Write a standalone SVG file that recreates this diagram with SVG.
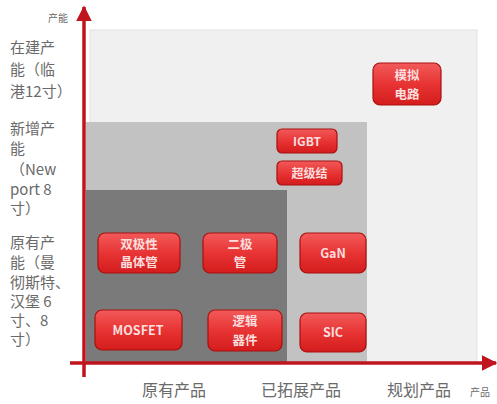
<svg xmlns="http://www.w3.org/2000/svg" width="497" height="404" viewBox="0 0 497 404">
<defs>
<linearGradient id="btn" x1="0" y1="0" x2="0" y2="1">
<stop offset="0" stop-color="#f25a5a"/>
<stop offset="0.5" stop-color="#e83434"/>
<stop offset="1" stop-color="#d41c1c"/>
</linearGradient>
<marker id="ah" viewBox="0 0 10 10" refX="9" refY="5" markerWidth="4.5" markerHeight="4.5" orient="auto" markerUnits="strokeWidth">
<path d="M0,0 L10,5 L0,10 z" fill="#c0141e"/>
</marker>
<style>
.lbl{font-family:"Noto Sans CJK SC","Liberation Serif",serif;font-size:15px;fill:#6a6a6a}
.xl{font-size:16px}
.sm{font-size:10px}
.btn rect{fill:url(#btn);stroke:#a81010;stroke-width:1.2}
.btn text{font-family:"Noto Sans CJK SC","Liberation Sans",sans-serif;font-size:12.5px;fill:#fbdede;text-anchor:middle;font-weight:bold}
.ax{stroke:#c0141e;stroke-width:3.5;fill:none}
</style>
</defs>
<rect width="497" height="404" fill="#ffffff"/>
<g id="regions">
<rect x="90" y="30" width="387" height="333" fill="#f0f0f0" stroke="#e2e2e2"/>
<rect x="86" y="122" width="281" height="241" fill="#c2c2c2"/>
<rect x="86" y="190" width="201" height="173" fill="#7a7a7a"/>
</g>
<g id="connectors">
<line class="ax" x1="84" y1="377" x2="84" y2="7" marker-end="url(#ah)"/>
<line class="ax" x1="70" y1="363" x2="496" y2="363" marker-end="url(#ah)"/>
</g>
<g id="y-labels" class="lbl">
<text x="48" y="22" class="lbl sm">产能</text>
<text x="10" y="53">在建产</text>
<text x="10" y="75">能（临</text>
<text x="10" y="97">港12寸）</text>
<text x="10" y="134">新增产</text>
<text x="10" y="154">能</text>
<text x="10" y="175">（New</text>
<text x="10" y="195">port 8</text>
<text x="10" y="214">寸）</text>
<text x="10" y="248">原有产</text>
<text x="10" y="268">能（曼</text>
<text x="10" y="288">彻斯特、</text>
<text x="10" y="307">汉堡 6</text>
<text x="10" y="326">寸、8</text>
<text x="10" y="345">寸）</text>
</g>
<g id="x-labels" class="lbl" text-anchor="middle">
<text x="174" y="396" class="lbl xl">原有产品</text>
<text x="301" y="396" class="lbl xl">已拓展产品</text>
<text x="419" y="396" class="lbl xl">规划产品</text>
<text x="480" y="396" class="lbl sm">产品</text>
</g>
<g id="n-bipolar" class="btn"><rect x="98" y="233" width="82" height="40" rx="7"/><text x="139" y="249">双极性</text><text x="139" y="267">晶体管</text></g>
<g id="n-diode" class="btn"><rect x="203" y="233" width="74" height="40" rx="7"/><text x="240" y="249">二极</text><text x="240" y="267">管</text></g>
<g id="n-mosfet" class="btn"><rect x="95" y="310" width="87" height="40" rx="7"/><text x="138" y="335">MOSFET</text></g>
<g id="n-logic" class="btn"><rect x="208" y="310" width="74" height="41" rx="7"/><text x="245" y="326">逻辑</text><text x="245" y="345">器件</text></g>
<g id="n-gan" class="btn"><rect x="300" y="233" width="66" height="40" rx="7"/><text x="333" y="258">GaN</text></g>
<g id="n-sic" class="btn"><rect x="300" y="313" width="66" height="39" rx="7"/><text x="333" y="337">SIC</text></g>
<g id="n-igbt" class="btn"><rect x="277" y="129" width="60" height="24" rx="5"/><text x="307" y="146" style="font-size:12px">IGBT</text></g>
<g id="n-sj" class="btn"><rect x="277" y="161" width="65" height="24" rx="5"/><text x="309.5" y="178" style="font-size:12px">超级结</text></g>
<g id="n-analog" class="btn"><rect x="373" y="63" width="68" height="42" rx="7"/><text x="407" y="80">模拟</text><text x="407" y="99">电路</text></g>
</svg>
